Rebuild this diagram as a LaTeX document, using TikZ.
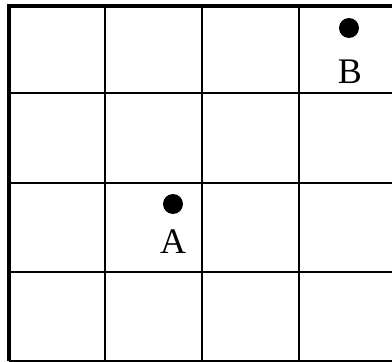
\documentclass[tikz,border=0pt]{standalone}
\usepackage{fontspec}
\setmainfont{Liberation Serif}
\usetikzlibrary{positioning}
\tikzset{
  % grid lines
  gridline/.style={line width=1.3pt,black},
  frame/.style={line width=3.5pt,black},
  % points and labels
  dot/.style={circle,fill=black,minimum size=20pt,inner sep=0pt},
  lbl/.style={font=\fontsize{36}{36}\selectfont,inner sep=0pt,anchor=base}
}
\begin{document}
\begin{tikzpicture}[x=1pt,y=-1pt]
  \useasboundingbox (0,0) rectangle (392,362);
  \clip (0,0) rectangle (392,362);
  % grid
  \foreach \y in {93,183,272}
    \draw[gridline] (9,\y) -- (400,\y);
  \foreach \x in {105,202,299}
    \draw[gridline] (\x,6) -- (\x,361);
  \draw[frame] (400,6) -- (9,6) -- (9,361);
  \draw[line width=2pt] (9,361) -- (400,361);
  % points
  \node[dot] (A) at (173,204) {};
  \node[dot] (B) at (349,28) {};
  \node[lbl] (labelA) at (173,253) {A};
  \node[lbl] (labelB) at (350,83) {B};
\end{tikzpicture}
\end{document}
